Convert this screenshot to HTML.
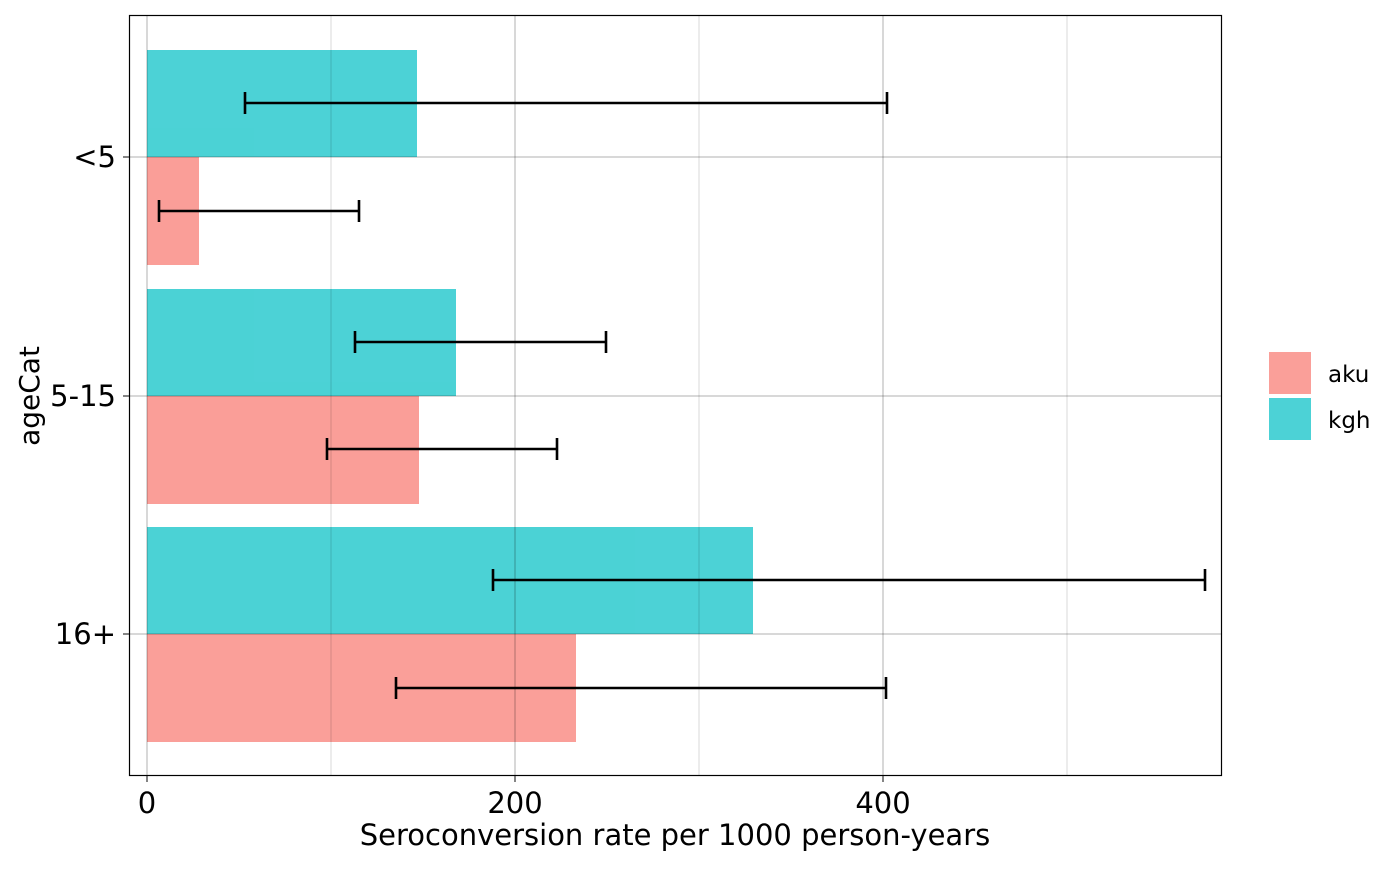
<!DOCTYPE html>
<html><head><meta charset="utf-8"><style>body{margin:0;background:#fff}</style></head><body>
<svg width="1400" height="866" xmlns="http://www.w3.org/2000/svg" font-family="DejaVu Sans, Liberation Sans, sans-serif">
<rect width="1400" height="866" fill="#fff"/>
<g opacity="0.7">
<rect x="147" y="50" width="270" height="107" fill="#00BFC4"/>
<rect x="147" y="157" width="52" height="108" fill="#F8766D"/>
<rect x="147" y="289" width="309" height="107" fill="#00BFC4"/>
<rect x="147" y="396" width="272" height="108" fill="#F8766D"/>
<rect x="147" y="527" width="606" height="107" fill="#00BFC4"/>
<rect x="147" y="634" width="429" height="108" fill="#F8766D"/>
</g>
<g stroke="#000" stroke-opacity="0.15" stroke-width="1">
<line x1="331" y1="15" x2="331" y2="776"/><line x1="699" y1="15" x2="699" y2="776"/><line x1="1067" y1="15" x2="1067" y2="776"/>
</g>
<g stroke="#000" stroke-opacity="0.3" stroke-width="1">
<line x1="147" y1="15" x2="147" y2="776"/><line x1="515" y1="15" x2="515" y2="776"/><line x1="883" y1="15" x2="883" y2="776"/>
<line x1="129" y1="157" x2="1222" y2="157"/><line x1="129" y1="396" x2="1222" y2="396"/><line x1="129" y1="634" x2="1222" y2="634"/>
</g>
<g stroke="#000" stroke-width="2.6" fill="none">
<path d="M245 103H887M245 92V114M887 92V114"/>
<path d="M159 211H359M159 200V222M359 200V222"/>
<path d="M355 342H606M355 331V353M606 331V353"/>
<path d="M327 449H557M327 438V460M557 438V460"/>
<path d="M493 580H1205M493 569V591M1205 569V591"/>
<path d="M396 688H886M396 677V699M886 677V699"/>
</g>
<rect x="129.5" y="15.5" width="1092" height="760" fill="none" stroke="#000" stroke-width="1.2"/>
<g stroke="#333" stroke-width="1.2">
<line x1="147" y1="776" x2="147" y2="782"/><line x1="515" y1="776" x2="515" y2="782"/><line x1="883" y1="776" x2="883" y2="782"/>
<line x1="123" y1="157" x2="129" y2="157"/><line x1="123" y1="396" x2="129" y2="396"/><line x1="123" y1="634" x2="129" y2="634"/>
</g>
<g font-size="29" fill="#000">
<text x="147" y="813" text-anchor="middle">0</text>
<text x="515" y="813" text-anchor="middle">200</text>
<text x="883" y="813" text-anchor="middle">400</text>
<text x="116" y="167" text-anchor="end">&lt;5</text>
<text x="116" y="406" text-anchor="end">5-15</text>
<text x="116" y="644" text-anchor="end">16+</text>
<text x="675" y="845" text-anchor="middle" font-size="29">Seroconversion rate per 1000 person-years</text>
<text transform="translate(39,396) rotate(-90)" text-anchor="middle" font-size="28">ageCat</text>
</g>
<rect x="1269" y="352" width="42" height="42" fill="#F8766D" opacity="0.7"/>
<rect x="1269" y="398" width="42" height="42" fill="#00BFC4" opacity="0.7"/>
<text x="1328" y="382" font-size="23">aku</text>
<text x="1328" y="428" font-size="23">kgh</text>
</svg>
</body></html>
